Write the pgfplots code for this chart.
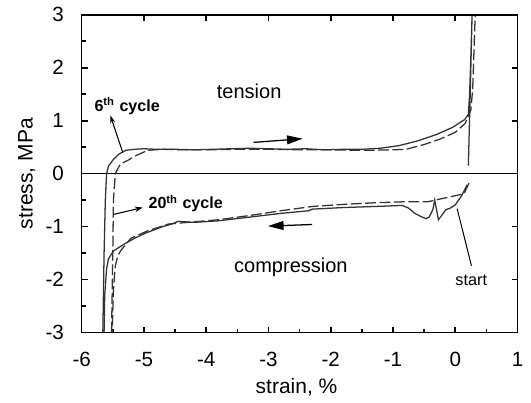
\documentclass[border=0pt]{standalone}
\usepackage{fontspec}
\setmainfont{Liberation Sans}
\usepackage{pgfplots}
\pgfplotsset{compat=1.18}
\usetikzlibrary{arrows.meta}

\definecolor{curve}{gray}{0.2}

% 6th cycle (solid)
\pgfplotstableread{
x y
-5.66 -3.00
-5.64 -1.50
-5.62 -0.50
-5.60 0.00
-5.57 0.14
-5.49 0.27
-5.40 0.37
-5.29 0.44
-5.15 0.46
-5.00 0.47
-4.80 0.46
-4.50 0.46
-4.20 0.45
-3.90 0.46
-3.60 0.47
-3.30 0.48
-3.00 0.47
-2.70 0.46
-2.40 0.47
-2.10 0.45
-1.80 0.46
-1.50 0.46
-1.20 0.48
-0.90 0.53
-0.60 0.62
-0.30 0.74
-0.05 0.87
0.15 1.02
0.21 1.12
0.23 1.50
0.25 2.20
0.27 3.00
0.24 1.50
0.21 0.15
}\tensionsix

\pgfplotstableread{
x y
0.19 -0.21
0.10 -0.42
0.00 -0.59
-0.08 -0.65
-0.15 -0.68
-0.27 -0.87
-0.33 -0.50
-0.36 -0.68
-0.42 -0.82
-0.47 -0.85
-0.55 -0.81
-0.65 -0.75
-0.75 -0.65
-0.85 -0.60
-1.30 -0.62
-1.80 -0.64
-2.30 -0.67
-2.35 -0.70
-2.80 -0.75
-3.30 -0.82
-3.80 -0.89
-4.20 -0.92
-4.45 -0.90
-4.55 -0.95
-4.70 -1.00
-4.97 -1.12
-5.15 -1.22
-5.29 -1.31
-5.49 -1.46
-5.57 -1.61
-5.60 -1.80
-5.63 -2.30
-5.64 -3.00
}\compsix

% 20th cycle (dashed)
\pgfplotstableread{
x y
-5.52 -3.00
-5.50 -1.50
-5.49 -0.50
-5.46 0.00
-5.38 0.18
-5.26 0.25
-5.13 0.34
-4.94 0.44
-4.70 0.46
-4.40 0.45
-4.00 0.45
-3.50 0.46
-3.00 0.46
-2.50 0.45
-2.00 0.45
-1.50 0.44
-1.00 0.45
-0.79 0.46
-0.50 0.55
-0.25 0.65
0.00 0.78
0.16 0.95
0.25 1.20
0.28 1.60
0.30 2.30
0.32 3.00
}\tensiontwenty

\pgfplotstableread{
x y
0.22 -0.18
0.14 -0.38
-0.44 -0.53
-0.80 -0.53
-1.30 -0.55
-1.80 -0.58
-2.30 -0.62
-2.80 -0.70
-3.30 -0.79
-3.80 -0.87
-4.20 -0.91
-4.60 -0.95
-4.94 -1.08
-5.21 -1.22
-5.37 -1.45
-5.42 -1.55
-5.46 -1.74
-5.49 -2.20
-5.51 -3.00
}\comptwenty

\begin{document}
\begin{tikzpicture}
\pgfplotsset{
  every axis/.append style={
    width=221.5bp, height=161.5bp, scale only axis,
    xmin=-6, xmax=1, ymin=-3, ymax=3,
    axis line style={line width=0.85pt},
    every tick/.style={black, line width=0.85pt},
    major tick length=3bp, minor tick length=2bp,
    tick align=inside,
  }
}
\begin{axis}[
  xtick={-6,-5,-4,-3,-2,-1,0,1},
  xticklabels={-6,-5,-4,-3,-2,-1,0,1},
  ytick={-3,-2,-1,0,1,2,3},
  yticklabels={-3,-2,-1,0,1,2,3},
  minor x tick num=1, minor y tick num=1,
  xtick pos=left, ytick pos=left,
  tick label style={font=\fontsize{10.5}{12}\selectfont},
  xticklabel style={yshift=-6.5bp},
  yticklabel style={xshift=-5.5bp},
  xlabel={strain, \%},
  ylabel={stress, MPa},
  label style={font=\fontsize{10.7}{12}\selectfont},
  xlabel style={at={(axis description cs:0.493,-0.192)}, anchor=base},
  ylabel style={at={(axis description cs:-0.126,0.5)}, anchor=center},
]
\coordinate (sw) at (rel axis cs:0,0);
\addplot[black, line width=0.55pt] coordinates {(-6,0) (1,0)};
\addplot[curve, line width=0.65pt] table {\tensionsix};
\addplot[curve, line width=0.65pt] table {\compsix};
\addplot[curve, line width=0.65pt, dash pattern=on 5.5bp off 1.8bp] table {\tensiontwenty};
\addplot[curve, line width=0.65pt, dash pattern=on 5.5bp off 1.8bp] table {\comptwenty};

% annotations
\node[anchor=base, font=\fontsize{10.2}{12}\selectfont] at (axis cs:-3.31,1.42) {tension};
\node[anchor=base, font=\fontsize{10.2}{12}\selectfont] at (axis cs:-2.64,-1.87) {compression};
\node[anchor=base, font=\fontsize{8.2}{10}\selectfont\bfseries] at (axis cs:-5.27,1.18) {6\textsuperscript{th} cycle};
\node[anchor=base, font=\fontsize{8.2}{10}\selectfont\bfseries] at (axis cs:-4.33,-0.66) {20\textsuperscript{th} cycle};
\node[anchor=base, font=\fontsize{8.3}{10}\selectfont] at (axis cs:0.256,-2.11) {start};

\draw[black, line width=0.55pt, -{Stealth[length=4bp,width=2.6bp]}] (axis cs:-5.34,0.40) -- (axis cs:-5.54,1.10);
\draw[black, line width=0.55pt, -{Stealth[length=4bp,width=2.8bp]}] (axis cs:-5.49,-0.77) -- (axis cs:-5.02,-0.64);
\draw[black, line width=0.65pt, -{Triangle[length=8bp,width=4.5bp]}] (axis cs:-3.24,0.59) -- (axis cs:-2.45,0.66);
\draw[black, line width=0.65pt, -{Triangle[length=8bp,width=4.5bp]}] (axis cs:-2.30,-0.96) -- (axis cs:-3.01,-0.99);
\draw[black, line width=0.5pt] (axis cs:0.26,-1.74) -- (axis cs:0.03,-0.66);
\end{axis}
\begin{axis}[
  xtick={-6,-5,-4,-3,-2,-1,0,1},
  ytick={-3,-2,-1,0,1,2,3},
  xticklabels={}, yticklabels={},
  xtick pos=right, ytick pos=right,
]
\end{axis}
\path (sw) ++(-41.5bp,-34.5bp) rectangle ++(265.5bp,203.5bp);
\end{tikzpicture}
\end{document}
